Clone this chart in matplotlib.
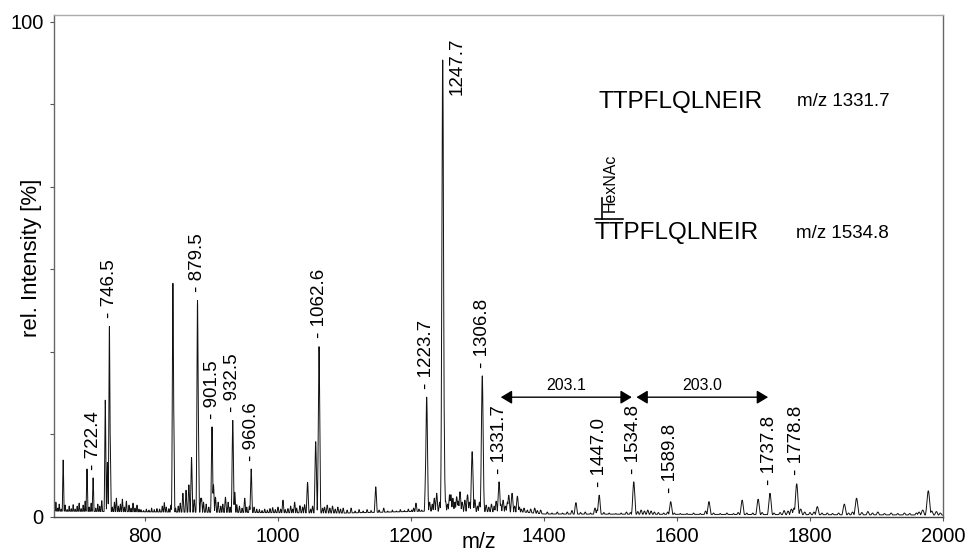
import numpy as np
import matplotlib
matplotlib.use('Agg')
import matplotlib.pyplot as plt

plt.rcParams['font.family'] = ['Liberation Sans', 'DejaVu Sans']

# ---- data -------------------------------------------------------------
# main peaks (m/z, rel. intensity %)
peak_mz = [677, 712.8, 722, 740.3, 743.5, 746.5, 747.5, 842, 843, 861.7, 866,
           870, 879, 880, 885, 900.8, 903, 921, 932, 935, 950, 959.7, 1007.5,
           1025, 1033, 1044.5, 1056.7, 1061.7, 1147, 1207.5, 1222.6, 1223.6,
           1238.6, 1247.7, 1248.7, 1249.7, 1258, 1263, 1268.7, 1273.7, 1281,
           1285, 1292, 1307.2, 1308.5, 1332.4, 1338.5, 1347, 1352, 1360, 1448,
           1476.7, 1483, 1535, 1556, 1590.5, 1648, 1698, 1722, 1739.8, 1761,
           1780, 1811, 1851.6, 1870, 1969.5, 1977.9]
peak_int = [11.5, 9.7, 7.9, 23.6, 11.0, 38.5, 17.0, 47.2, 23.0, 5.4, 6.5,
            12.0, 43.7, 21.8, 3.8, 18.2, 6.5, 4.0, 19.5, 5.0, 3.8, 9.7, 3.4,
            3.0, 2.3, 7.0, 15.2, 34.4, 6.1, 2.8, 11.5, 24.2,
            4.8, 92.3, 34.4, 12.0, 4.5, 3.8, 4.1, 5.1, 3.4,
            4.5, 13.2, 28.5, 6.0, 7.1, 3.4, 4.4, 4.8, 4.2, 2.9,
            1.8, 4.4, 7.1, 1.4, 3.1, 3.1, 3.4, 3.6, 4.8, 1.3,
            6.7, 2.1, 2.6, 3.8, 1.4, 5.3]

# small baseline spikes (m/z, rel. intensity %)
noise_mz = [664, 666, 669, 671, 674, 680, 683, 686, 689, 692, 695, 698, 701,
            704, 707, 710, 716, 719, 726, 729, 732, 735, 751, 754, 757, 760,
            763, 766, 769, 772, 776, 779, 782, 785, 788, 791, 794, 798, 802,
            806, 810, 814, 818, 822, 826, 829, 832, 836, 839,
            846, 850, 853, 857, 874, 884, 888, 892, 896, 906, 910, 914, 917,
            925, 928, 938, 942, 946, 953, 957, 964, 968, 972, 976, 980, 984,
            988, 992, 996, 1000, 1004, 1011, 1015, 1019, 1022, 1028, 1037,
            1040, 1049, 1052, 1067, 1070, 1074, 1078, 1082, 1086, 1090, 1094,
            1098,
            1104, 1110, 1116, 1122, 1128, 1134, 1140, 1152, 1159, 1165, 1172,
            1178, 1184, 1190, 1196, 1201, 1204, 1212, 1216,
            1228, 1232, 1235, 1243, 1252, 1255, 1260, 1266, 1271, 1277, 1288,
            1296, 1300, 1303, 1313, 1317, 1321, 1325, 1328, 1335, 1342, 1345,
            1356, 1363, 1366, 1370, 1375, 1380, 1386, 1390, 1395,
            1405, 1412, 1420, 1428, 1435, 1442, 1455, 1462, 1470, 1480, 1490,
            1498, 1508, 1516, 1524, 1530, 1541, 1546, 1551, 1561, 1566, 1572,
            1580, 1586, 1596, 1605, 1615, 1625, 1635, 1643, 1655, 1665, 1675,
            1685, 1692, 1705, 1714, 1728, 1746, 1755, 1767, 1772, 1776, 1786,
            1792, 1800, 1806, 1818, 1826, 1834, 1843, 1858, 1864, 1878, 1887,
            1894, 1902, 1912, 1922, 1932, 1942, 1950, 1960, 1964, 1983, 1990,
            1996]
noise_int = [2.2, 3.0, 1.8, 2.6, 1.6, 2.4, 1.5, 2.2, 1.7, 2.5, 1.6, 2.2, 2.8,
             1.7, 2.4, 3.2, 2.0, 2.8, 1.8, 2.6, 2.2, 3.3, 2.0, 3.0, 3.8, 2.2,
             2.6, 3.6, 2.0, 3.2, 2.4, 1.8, 2.8, 1.8, 2.4, 1.6, 1.5, 1.3, 1.6,
             1.4, 1.8, 1.5, 1.7, 1.6, 2.2, 2.9, 2.0, 1.7, 2.4,
             1.8, 2.2, 2.8, 4.8, 3.5, 3.8, 3.0, 2.6, 2.0, 4.0, 3.0, 2.2, 2.6,
             3.0, 2.0, 2.5, 2.2, 1.8, 2.0, 2.2, 2.0, 1.6, 1.5, 1.3, 1.6, 1.4,
             1.7, 1.9, 1.5, 2.0, 1.6, 1.5, 1.7, 2.2, 1.6, 1.8, 2.0,
             2.5, 1.6, 2.2, 1.8, 2.0, 2.4, 1.8, 2.2, 1.6, 2.0, 1.6,
             1.8,
             1.4, 1.8, 1.2, 1.5, 1.2, 1.5, 1.3, 1.4, 1.8, 1.2, 1.4,
             1.2, 1.5, 1.3, 1.6, 1.4, 1.8, 1.6, 1.4,
             3.0, 2.6, 3.8, 3.0, 3.2, 2.6, 4.5, 3.0, 3.2, 3.0, 3.0,
             3.5, 2.2, 3.0, 2.4, 2.0, 2.6, 2.2, 3.2, 2.6, 2.2, 3.0,
             2.2, 2.0, 1.6, 1.8, 1.4, 1.6, 1.8, 1.3, 1.4,
             1.0, 0.8, 1.0, 0.8, 1.0, 1.3, 0.9, 1.0, 0.8, 1.4, 0.9,
             0.8, 0.7, 0.8, 1.0, 0.9, 1.1, 1.4, 1.2, 1.2, 1.0, 0.9,
             0.8, 1.0, 0.8, 0.7, 0.7, 0.8, 0.7, 1.2, 0.8, 0.7, 0.8,
             0.7, 0.9, 0.8, 0.8, 0.9, 0.8, 0.9, 1.2, 1.6, 1.8, 1.6,
             1.0, 0.9, 1.0, 0.8, 0.8, 0.7, 0.8, 0.8, 1.0, 0.9, 1.1,
             0.8, 1.0, 0.7, 0.8, 0.7, 0.8, 0.7, 0.8, 1.0, 1.2, 1.1,
             0.8]

baseline_mz = [663, 840, 1100, 1230, 1370, 1400, 2000]
baseline_int = [1.2, 1.0, 0.8, 1.2, 1.0, 0.6, 0.4]

# labelled peaks: text and position of the peak it marks
label_text = ['722.4', '746.5', '879.5', '901.5', '932.5', '960.6', '1062.6',
              '1223.7', '1306.8', '1331.7', '1447.0', '1534.8', '1589.8',
              '1737.8', '1778.8']
label_mz = [722, 746.5, 879, 900.8, 932, 959.7, 1061.7, 1223.6, 1307.2,
            1332.4, 1483, 1535, 1590.5, 1739.8, 1780]
base_peak_text = '1247.7'
base_peak_mz = 1247.7

# mass differences
gap_start = [1335, 1539]
gap_end = [1532, 1737]
gap_text = ['203.1', '203.0']
gap_level = 24.2

x_ticks = [800, 1000, 1200, 1400, 1600, 1800, 2000]
y_tick_labels = ['0', '', '', '', '', '', '100']

# ---- figure -----------------------------------------------------------
fig = plt.figure(figsize=(9.68, 5.56), dpi=100)
ax = fig.add_axes([54 / 968, 39 / 556, 889 / 968, 502 / 556])
xmin, xmax = 663.2, 2000
ax.set_xlim(xmin, xmax)
ax.set_ylim(0, 101.4)

x = np.arange(xmin, xmax, 0.05)
prof = np.interp(x, baseline_mz, baseline_int)
for m, h in zip(peak_mz + noise_mz, peak_int + noise_int):
    s = 0.001 * m
    prof = np.maximum(prof, h * np.exp(-0.5 * ((x - m) / s) ** 2))
ax.plot(x, prof, color='#111111', lw=0.7)

for t, m in zip(label_text, label_mz):
    y = prof[np.abs(x - m) < 2].max()
    ax.annotate('- ' + t, xy=(m, y), xytext=(0, 6), textcoords='offset points',
                rotation=90, ha='center', va='bottom', fontsize=13.5)
yb = prof[np.abs(x - base_peak_mz) < 2].max()
ax.annotate(base_peak_text, xy=(base_peak_mz, yb), xytext=(10.5, -25),
            textcoords='offset points', rotation=90, ha='center', va='bottom',
            fontsize=13.5)

for s, e, t in zip(gap_start, gap_end, gap_text):
    ax.annotate('', xy=(e, gap_level), xytext=(s, gap_level),
                arrowprops=dict(arrowstyle='<|-|>,head_length=0.45,head_width=0.27',
                                color='black', lw=1.0, mutation_scale=15,
                                shrinkA=0, shrinkB=0))
    ax.annotate(t, xy=((s + e) / 2, gap_level), xytext=(0, 3),
                textcoords='offset points', ha='center', va='bottom',
                fontsize=11.5)

# peptide annotations
ax.text(0.612, 0.8267, 'TTPFLQLNEIR', transform=ax.transAxes, fontsize=17.5,
        ha='left', va='center')
ax.text(0.8358, 0.8267, 'm/z 1331.7', transform=ax.transAxes, fontsize=13.5,
        ha='left', va='center')
ax.text(0.6085, 0.5657, 'TTPFLQLNEIR', transform=ax.transAxes, fontsize=17.5,
        ha='left', va='center')
ax.text(0.8347, 0.5657, 'm/z 1534.8', transform=ax.transAxes, fontsize=13.5,
        ha='left', va='center')
ax.plot([0.6085, 0.640], [0.5936, 0.5936], transform=ax.transAxes,
        color='black', lw=1.2, clip_on=False)
ax.plot([0.6164, 0.6164], [0.5936, 0.6355], transform=ax.transAxes,
        color='black', lw=1.2, clip_on=False)
ax.text(0.6255, 0.6076, 'HexNAc', transform=ax.transAxes, fontsize=11.5,
        rotation=90, ha='center', va='bottom')

# axes styling
ax.set_xticks(x_ticks)
ax.set_xticklabels([str(v) for v in x_ticks])
ax.set_yticks(np.linspace(0, 100, 7))
ax.set_yticklabels(y_tick_labels)
ax.tick_params(axis='both', direction='out', length=3, width=0.8,
               color='#555555', labelsize=14.5, pad=4.5)
for side, col in [('left', '#666666'), ('bottom', '#444444'),
                  ('top', '#aaaaaa'), ('right', '#666666')]:
    ax.spines[side].set_color(col)
    ax.spines[side].set_linewidth(1.0)

ax.set_xlabel('m/z', fontsize=15.5)
ax.xaxis.set_label_coords(0.478, -0.029)
ax.text(-0.0253, 0.517, 'rel. Intensity [%]', transform=ax.transAxes,
        rotation=90, ha='center', va='center', fontsize=16)

fig.savefig('out.png', dpi=100)
